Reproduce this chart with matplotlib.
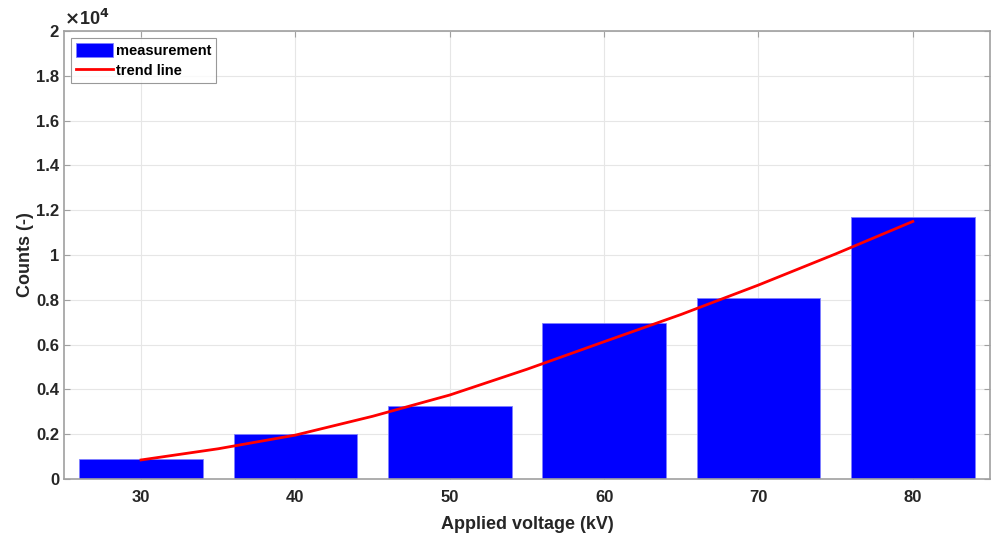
import matplotlib
matplotlib.use("Agg")
import matplotlib.pyplot as plt
import numpy as np

plt.rcParams['font.family'] = ['Liberation Sans', 'DejaVu Sans']
plt.rcParams['font.weight'] = 'bold'

voltages = [30, 40, 50, 60, 70, 80]
counts = [890, 2000, 3260, 6960, 8090, 11680]
trend_x = [30, 35, 40, 45, 50, 55, 60, 65, 70, 75, 80]
trend_y = [850, 1350, 1960, 2800, 3750, 4900, 6130, 7350, 8660, 10050, 11500]
yticks = [0, 2000, 4000, 6000, 8000, 10000, 12000, 14000, 16000, 18000, 20000]
ytick_labels = ['0', '0.2', '0.4', '0.6', '0.8', '1', '1.2', '1.4', '1.6', '1.8', '2']

fig = plt.figure(figsize=(9.98, 5.41), dpi=100)
ax = fig.add_axes([0.064, 0.1146, 0.928, 0.828])

bars = ax.bar(voltages, counts, width=8, color='#0000ff', edgecolor='#8080ff', linewidth=0.6,
              label='measurement', zorder=2)
line, = ax.plot(trend_x, trend_y, color='#ff0000', linewidth=2, label='trend line', zorder=3)

ax.set_xlim(25, 85)
ax.set_ylim(0, 20000)
ax.set_xticks(voltages)
ax.set_yticks(yticks)
ax.set_yticklabels(ytick_labels)
ax.tick_params(axis='both', direction='in', length=4, top=True, right=True,
               labelsize=12, width=0.8)
for lbl in ax.get_xticklabels() + ax.get_yticklabels():
    lbl.set_fontweight('bold')
ax.tick_params(axis='both', colors='#a0a0a0', labelcolor='#262626')
ax.tick_params(axis='x', pad=8)
for s in ax.spines.values():
    s.set_color('#a0a0a0')
    s.set_linewidth(1.2)
ax.grid(True, color='#e6e6e6', linewidth=0.8, zorder=0)
ax.set_axisbelow(True)

ax.set_xlabel('Applied voltage (kV)', fontsize=13, fontweight='bold', color='#262626', labelpad=8)
ax.set_ylabel('Counts (-)', fontsize=13, fontweight='bold', color='#262626', labelpad=1)
ax.text(0.0, 1.005, r'$\times$10$^{4}$', transform=ax.transAxes, fontsize=13,
        color='#262626', ha='left', va='bottom')

leg = ax.legend([bars, line], ['measurement', 'trend line'], loc='upper left',
                fontsize=10.5, frameon=True, fancybox=False,
                edgecolor='#808080', borderaxespad=0.5, handlelength=2.5,
                handleheight=1.1, handletextpad=0.2, borderpad=0.35, labelspacing=0.3)
leg.get_frame().set_linewidth(0.8)
for t in leg.get_texts():
    t.set_fontweight('bold')

fig.savefig('out.png', dpi=100)
